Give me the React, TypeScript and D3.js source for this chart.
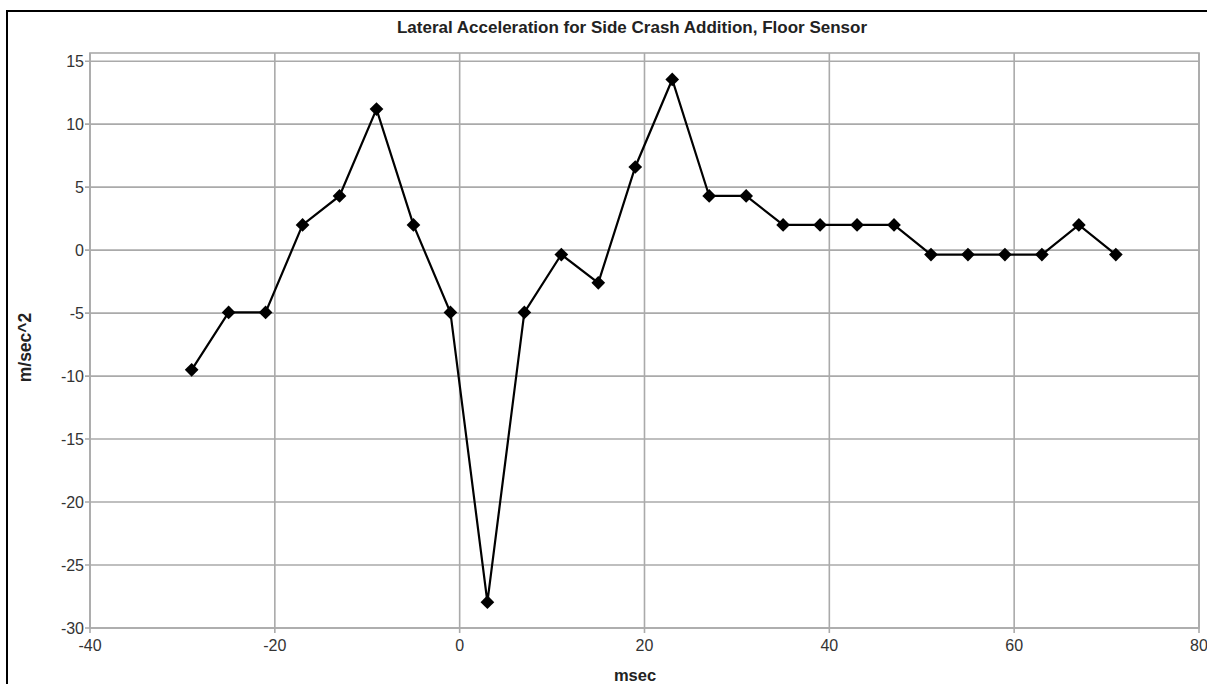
import React, { useRef, useEffect } from 'react';
import * as d3 from 'd3';

// msec sample times and lateral acceleration readings (m/sec^2)
const times = [-29, -25, -21, -17, -13, -9, -5, -1, 3, 7, 11, 15, 19, 23, 27, 31, 35, 39, 43, 47, 51, 55, 59, 63, 67, 71];
const accel = [-9.5, -4.95, -4.95, 2.0, 4.3, 11.2, 2.0, -4.95, -27.95, -4.95, -0.35, -2.6, 6.6, 13.55, 4.3, 4.3, 2.0, 2.0, 2.0, 2.0, -0.35, -0.35, -0.35, -0.35, 2.0, -0.35];

const xTicks = [-40, -20, 0, 20, 40, 60, 80];
const yTicks = [15, 10, 5, 0, -5, -10, -15, -20, -25, -30];

const title = 'Lateral Acceleration for Side Crash Addition, Floor Sensor';
const xLabel = 'msec';
const yLabel = 'm/sec^2';

const Chart: React.FC = () => {
  const svgRef = useRef<SVGSVGElement>(null);

  useEffect(() => {
    const svg = d3.select(svgRef.current);
    svg.selectAll('*').remove();

    const width = 1207;
    const height = 684;
    const margin = { top: 53, right: 8, bottom: 56, left: 90 };
    const font = 'Liberation Sans, Arial, Helvetica, sans-serif';
    const grid = '#aaaaaa';

    const x = d3.scaleLinear()
      .domain([-40, 80])
      .range([margin.left, width - margin.right]);

    const y = d3.scaleLinear()
      .domain([-30, 15.65])
      .range([height - margin.bottom, margin.top]);

    // outer frame (runs off the right and bottom edges)
    svg.append('rect')
      .attr('x', 7).attr('y', 11)
      .attr('width', width + 20).attr('height', height + 20)
      .attr('fill', 'none')
      .attr('stroke', '#000')
      .attr('stroke-width', 2);

    // gridlines
    const gx = svg.append('g').attr('stroke', grid).attr('stroke-width', 1.6);
    gx.selectAll('line.v')
      .data(xTicks)
      .join('line')
      .attr('x1', d => x(d)).attr('x2', d => x(d))
      .attr('y1', margin.top).attr('y2', height - margin.bottom + 5);
    gx.selectAll('line.h')
      .data(yTicks)
      .join('line')
      .attr('class', 'h')
      .attr('x1', margin.left - 5).attr('x2', width - margin.right)
      .attr('y1', d => y(d)).attr('y2', d => y(d));

    svg.append('rect')
      .attr('x', margin.left).attr('y', margin.top)
      .attr('width', width - margin.right - margin.left)
      .attr('height', height - margin.bottom - margin.top)
      .attr('fill', 'none')
      .attr('stroke', grid)
      .attr('stroke-width', 1.6);

    // tick labels
    svg.append('g')
      .selectAll('text')
      .data(yTicks)
      .join('text')
      .attr('x', margin.left - 6)
      .attr('y', d => y(d) + 5.5)
      .attr('text-anchor', 'end')
      .attr('font-family', font)
      .attr('font-size', 16)
      .attr('fill', '#333')
      .text(d => d);

    svg.append('g')
      .selectAll('text')
      .data(xTicks)
      .join('text')
      .attr('x', d => x(d))
      .attr('y', height - margin.bottom + 23)
      .attr('text-anchor', 'middle')
      .attr('font-family', font)
      .attr('font-size', 16)
      .attr('fill', '#333')
      .text(d => d);

    // titles
    svg.append('text')
      .attr('x', 632).attr('y', 33)
      .attr('text-anchor', 'middle')
      .attr('font-family', font)
      .attr('font-weight', 'bold')
      .attr('font-size', 17)
      .attr('fill', '#222')
      .text(title);

    svg.append('text')
      .attr('x', 635).attr('y', 681)
      .attr('text-anchor', 'middle')
      .attr('font-family', font)
      .attr('font-weight', 'bold')
      .attr('font-size', 16.5)
      .attr('fill', '#222')
      .text(xLabel);

    svg.append('text')
      .attr('transform', `translate(31,${(margin.top + height - margin.bottom) / 2 + 7}) rotate(-90)`)
      .attr('text-anchor', 'middle')
      .attr('font-family', font)
      .attr('font-weight', 'bold')
      .attr('font-size', 17.5)
      .attr('fill', '#222')
      .text(yLabel);

    // series
    const pts = times.map((t, i) => [t, accel[i]] as [number, number]);
    const line = d3.line<[number, number]>()
      .x(d => x(d[0]))
      .y(d => y(d[1]));

    svg.append('path')
      .datum(pts)
      .attr('d', line)
      .attr('fill', 'none')
      .attr('stroke', '#000')
      .attr('stroke-width', 2.2);

    const diamond = d3.symbol().type(d3.symbolDiamond2).size(120);
    svg.append('g')
      .selectAll('path')
      .data(pts)
      .join('path')
      .attr('transform', d => `translate(${x(d[0])},${y(d[1])})`)
      .attr('d', diamond)
      .attr('fill', '#000');
  }, []);

  return (
    <svg
      ref={svgRef}
      width={1207}
      height={684}
      style={{ position: 'absolute', left: 0, top: 0, background: '#fff' }}
    />
  );
};

export default function App() {
  return <Chart />;
}
